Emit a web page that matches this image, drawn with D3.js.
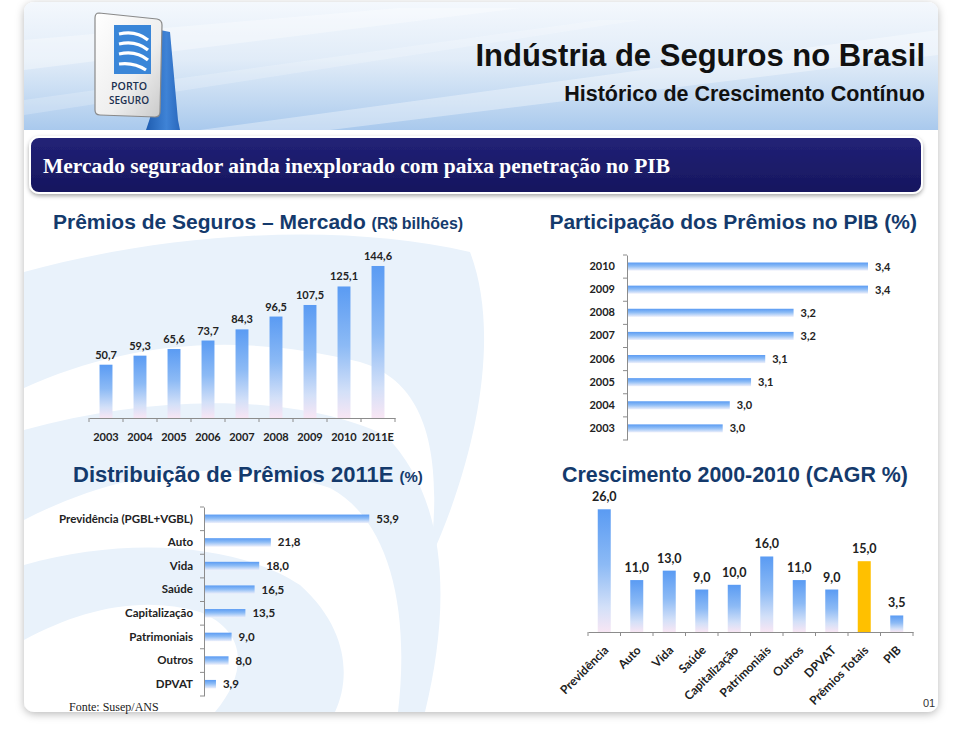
<!DOCTYPE html>
<html><head><meta charset="utf-8">
<script src="https://cdn.jsdelivr.net/npm/d3@7"></script>
<style>body{margin:0;background:#fff;} svg{display:block}</style>
</head><body>
<svg id="c" width="959" height="729"></svg>
<script>
// ---------- DATA ----------
const years = ["2003","2004","2005","2006","2007","2008","2009","2010","2011E"];
const premios = [50.7,59.3,65.6,73.7,84.3,96.5,107.5,125.1,144.6];

const pibYears = ["2010","2009","2008","2007","2006","2005","2004","2003"];
const pibShare = [3.40,3.40,3.19,3.19,3.11,3.07,3.01,2.99];

const distCats = ["Previdência (PGBL+VGBL)","Auto","Vida","Saúde","Capitalização","Patrimoniais","Outros","DPVAT"];
const distVals = [53.9,21.8,18.0,16.5,13.5,9.0,8.0,3.9];

const cagrCats = ["Previdência","Auto","Vida","Saúde","Capitalização","Patrimoniais","Outros","DPVAT","Prêmios Totais","PIB"];
const cagrVals = [26.0,11.0,13.0,9.0,10.0,16.0,11.0,9.0,15.0,3.5];
const cagrHighlight = "Prêmios Totais";

const fmt = v => d3.format(".1f")(v).replace(".", ",");

// ---------- SETUP ----------
const svg = d3.select("#c");
const defs = svg.append("defs");

function lin(id, x2, y2, stops){
  const g = defs.append("linearGradient").attr("id", id).attr("x1",0).attr("y1",0).attr("x2",x2).attr("y2",y2);
  stops.forEach(s => g.append("stop").attr("offset", s[0]).attr("stop-color", s[1]));
}
lin("vGrad",0,1,[[0,"#5a9bf3"],[0.45,"#8cbaf5"],[0.8,"#d3e0f8"],[1,"#f8e6f4"]]);
lin("hGrad",0,1,[[0,"#5a9bf3"],[0.45,"#8dbcf6"],[1,"#eef0fb"]]);
lin("headGrad",0,1,[[0,"#f4f8fd"],[0.45,"#e1ecf8"],[0.8,"#bfd7f1"],[1,"#a9c9ed"]]);
lin("postGrad",1,0,[[0,"#1f5db0"],[0.6,"#3f83d6"],[1,"#2a68bd"]]);
lin("signGrad",1,1,[[0,"#ffffff"],[0.6,"#eeeeee"],[1,"#c9c9c9"]]);
lin("bannerGrad",0,1,[[0,"#222277"],[1,"#16165e"]]);

const f = defs.append("filter").attr("id","shadow").attr("x","-10%").attr("y","-10%").attr("width","120%").attr("height","120%");
f.append("feDropShadow").attr("dx",0).attr("dy",2).attr("stdDeviation",4).attr("flood-color","#000").attr("flood-opacity",0.28);
const f2 = defs.append("filter").attr("id","shadow2").attr("x","-10%").attr("y","-30%").attr("width","120%").attr("height","160%");
f2.append("feDropShadow").attr("dx",0).attr("dy",2).attr("stdDeviation",2).attr("flood-color","#000").attr("flood-opacity",0.35);

defs.append("clipPath").attr("id","panelClip").append("rect").attr("x",24).attr("y",195).attr("width",914).attr("height",517).attr("rx",10);

// ---------- PANEL ----------
svg.append("rect").attr("x",24).attr("y",2).attr("width",914).attr("height",710).attr("rx",10)
  .attr("fill","#fff").attr("filter","url(#shadow)");

// watermark swooshes
const wm = svg.append("g").attr("clip-path","url(#panelClip)").attr("fill","#e9f2fb");
wm.append("path").attr("d","M24,272 C170,232 340,222 470,252 C500,330 480,450 430,560 C445,440 420,380 360,362 C230,330 120,345 24,388 Z");
wm.append("path").attr("d","M24,430 C160,392 300,395 385,435 C450,500 450,610 425,712 L398,712 C410,610 390,520 330,488 C230,455 120,470 24,520 Z");
wm.append("path").attr("d","M24,565 C130,535 240,545 300,585 C350,630 350,680 335,712 L215,712 C250,670 245,630 200,612 C140,595 80,610 24,640 Z");

// ---------- HEADER ----------
svg.append("path").attr("d","M24,130 L24,12 Q24,2 34,2 L928,2 Q938,2 938,12 L938,130 Z").attr("fill","url(#headGrad)");
const streaks = svg.append("g").attr("fill","#fff").attr("opacity",0.35);
streaks.append("path").attr("d","M24,40 L400,8 L520,8 L24,70 Z");
streaks.append("path").attr("d","M200,130 L938,30 L938,55 L330,130 Z");
streaks.append("path").attr("d","M24,100 L600,20 L640,20 L24,115 Z").attr("opacity",0.6);

// logo: post
svg.append("path").attr("d","M160,30 L170,32 L178,120 L180,130 L146,130 L150,118 Z").attr("fill","url(#postGrad)");
// sign
svg.append("path").attr("d","M99,13 L157,19 Q162,20 162,25 L160,112 Q160,117 155,117 L100,115 Q95,115 95,110 L95,18 Q95,13 99,13 Z")
  .attr("fill","url(#signGrad)").attr("stroke","#8a8a8a").attr("stroke-width",1.2);
svg.append("rect").attr("x",114).attr("y",25).attr("width",37).attr("height",49).attr("fill","#3a86d8");
const arcs = svg.append("g").attr("fill","none").attr("stroke","#fff").attr("stroke-width",3.2);
arcs.append("path").attr("d","M119,34 Q136,30 148,40");
arcs.append("path").attr("d","M119,44 Q136,40 148,50");
arcs.append("path").attr("d","M119,54 Q136,50 148,60");
arcs.append("path").attr("d","M119,64 Q134,62 146,70");
svg.append("text").attr("x",129).attr("y",90).attr("text-anchor","middle").attr("font-family","Open Sans, sans-serif")
  .attr("font-size",11.5).attr("font-weight",600).attr("fill","#1b3050").attr("textLength",36).attr("lengthAdjust","spacingAndGlyphs").text("PORTO");
svg.append("text").attr("x",129).attr("y",104).attr("text-anchor","middle").attr("font-family","Open Sans, sans-serif")
  .attr("font-size",11.5).attr("font-weight",600).attr("fill","#1b3050").attr("textLength",40).attr("lengthAdjust","spacingAndGlyphs").text("SEGURO");

svg.append("text").attr("x",925).attr("y",66).attr("text-anchor","end").attr("font-family","Liberation Sans, Arial, sans-serif")
  .attr("font-size",31).attr("font-weight","bold").attr("fill","#111")
  .text("Indústria de Seguros no Brasil");
svg.append("text").attr("x",925).attr("y",101).attr("text-anchor","end").attr("font-family","Liberation Sans, Arial, sans-serif")
  .attr("font-size",21.5).attr("font-weight","bold").attr("fill","#111")
  .text("Histórico de Crescimento Contínuo");

// banner
svg.append("rect").attr("x",30).attr("y",137).attr("width",892).attr("height",56).attr("rx",9)
  .attr("fill","url(#bannerGrad)").attr("stroke","#fff").attr("stroke-width",2).attr("filter","url(#shadow2)");
svg.append("text").attr("x",43).attr("y",173).attr("font-family","Liberation Serif, serif").attr("font-size",21)
  .attr("font-weight","bold").attr("fill","#fff").attr("textLength",627).attr("lengthAdjust","spacingAndGlyphs")
  .text("Mercado segurador ainda inexplorado com paixa penetração no PIB");

// ---------- TITLES ----------
const titleColor = "#143a6c";
function title(x, y, anchor, main, sub, size, subSize){
  const t = svg.append("text").attr("x",x).attr("y",y).attr("text-anchor",anchor)
    .attr("font-family","Liberation Sans, Arial, sans-serif").attr("font-weight","bold").attr("fill",titleColor).attr("font-size",size);
  t.append("tspan").text(main);
  if (sub) t.append("tspan").attr("font-size",subSize).text(sub);
  return t;
}
title(53,229,"start","Prêmios de Seguros – Mercado ","(R$ bilhões)",21,16);
title(917,229,"end","Participação dos Prêmios no PIB (%)",null,21);
title(73,482,"start","Distribuição de Prêmios 2011E ","(%)",22,15);
title(562,482,"start","Crescimento 2000-2010 (CAGR %)",null,21.4);

const lblFont = "Lato, 'Open Sans', sans-serif";
const axisColor = "#8c8c8c";

// ---------- CHART 1: Prêmios (vertical bars) ----------
{
  const x = d3.scaleBand().domain(years).range([89,395]).paddingInner(0.62).paddingOuter(0.31);
  const y = d3.scaleLinear().domain([0,150]).range([418,260.3]);
  const g = svg.append("g");
  g.selectAll("rect").data(years).join("rect")
    .attr("x", d => x(d)).attr("width", x.bandwidth())
    .attr("y", (d,i) => y(premios[i])).attr("height", (d,i) => y(0) - y(premios[i]))
    .attr("fill","url(#vGrad)");
  g.selectAll("text.v").data(years).join("text").attr("class","v")
    .attr("x", d => x(d) + x.bandwidth()/2).attr("y", (d,i) => y(premios[i]) - 6)
    .attr("text-anchor","middle").attr("font-family",lblFont).attr("font-weight","bold").attr("font-size",11).attr("fill","#222")
    .text((d,i) => fmt(premios[i]));
  const ax = g.append("g").attr("transform",`translate(0,${y(0)})`)
    .call(d3.axisBottom(x).tickSize(0).tickPadding(15));
  ax.select(".domain").attr("stroke",axisColor);
  ax.selectAll("text").attr("font-family",lblFont).attr("font-weight","bold").attr("font-size",11).attr("fill","#222");
  const step = x.step();
  const bounds = years.map(d => x(d) + x.bandwidth()/2 - step/2).concat([x(years[years.length-1]) + x.bandwidth()/2 + step/2]);
  g.selectAll("line.tk").data(bounds).join("line").attr("class","tk")
    .attr("x1", d => d).attr("x2", d => d).attr("y1", y(0)).attr("y2", y(0)+4).attr("stroke",axisColor);
}

// ---------- CHART 2: PIB share (horizontal bars) ----------
{
  const y = d3.scaleBand().domain(pibYears).range([255,440]).paddingInner(0.65).paddingOuter(0.325);
  const x = d3.scaleLinear().domain([2.72,3.40]).range([627,868]);
  const g = svg.append("g");
  g.selectAll("rect").data(pibYears).join("rect")
    .attr("y", d => y(d)).attr("height", y.bandwidth())
    .attr("x", x.range()[0]).attr("width", (d,i) => x(pibShare[i]) - x.range()[0])
    .attr("fill","url(#hGrad)");
  g.selectAll("text.v").data(pibYears).join("text").attr("class","v")
    .attr("x", (d,i) => x(pibShare[i]) + 7).attr("y", d => y(d) + y.bandwidth()/2 + 4)
    .attr("font-family",lblFont).attr("font-weight","bold").attr("font-size",11).attr("fill","#222")
    .text((d,i) => fmt(pibShare[i]));
  const ax = g.append("g").attr("transform",`translate(${x.range()[0]},0)`)
    .call(d3.axisLeft(y).tickSize(0).tickPadding(12));
  ax.select(".domain").attr("stroke",axisColor);
  ax.selectAll("text").attr("font-family",lblFont).attr("font-weight","bold").attr("font-size",11).attr("fill","#222");
  const step = y.step();
  const bounds = pibYears.map(d => y(d) + y.bandwidth()/2 - step/2).concat([y(pibYears[pibYears.length-1]) + y.bandwidth()/2 + step/2]);
  g.selectAll("line.tk").data(bounds).join("line").attr("class","tk")
    .attr("y1", d => d).attr("y2", d => d).attr("x1", x.range()[0]-4).attr("x2", x.range()[0]).attr("stroke",axisColor);
}

// ---------- CHART 3: Distribuição (horizontal bars) ----------
{
  const y = d3.scaleBand().domain(distCats).range([507,696]).paddingInner(0.64).paddingOuter(0.32);
  const x = d3.scaleLinear().domain([0,60]).range([204,388]);
  const g = svg.append("g");
  g.selectAll("rect").data(distCats).join("rect")
    .attr("y", d => y(d)).attr("height", y.bandwidth())
    .attr("x", x(0)).attr("width", (d,i) => x(distVals[i]) - x(0))
    .attr("fill","url(#hGrad)");
  g.selectAll("text.v").data(distCats).join("text").attr("class","v")
    .attr("x", (d,i) => x(distVals[i]) + 7).attr("y", d => y(d) + y.bandwidth()/2 + 4)
    .attr("font-family",lblFont).attr("font-weight","bold").attr("font-size",11.5).attr("fill","#222")
    .text((d,i) => fmt(distVals[i]));
  const ax = g.append("g").attr("transform",`translate(${x(0)},0)`)
    .call(d3.axisLeft(y).tickSize(0).tickPadding(11));
  ax.select(".domain").attr("stroke",axisColor);
  ax.selectAll("text").attr("font-family",lblFont).attr("font-weight","bold").attr("font-size",11.5).attr("fill","#222");
  const step = y.step();
  const bounds = distCats.map(d => y(d) + y.bandwidth()/2 - step/2).concat([y(distCats[distCats.length-1]) + y.bandwidth()/2 + step/2]);
  g.selectAll("line.tk").data(bounds).join("line").attr("class","tk")
    .attr("y1", d => d).attr("y2", d => d).attr("x1", x(0)-4).attr("x2", x(0)).attr("stroke",axisColor);
}

// ---------- CHART 4: CAGR (vertical bars) ----------
{
  const x = d3.scaleBand().domain(cagrCats).range([588,913]).paddingInner(0.6).paddingOuter(0.3);
  const y = d3.scaleLinear().domain([0,30]).range([632,490.4]);
  const g = svg.append("g");
  g.selectAll("rect").data(cagrCats).join("rect")
    .attr("x", d => x(d)).attr("width", x.bandwidth())
    .attr("y", (d,i) => y(cagrVals[i])).attr("height", (d,i) => y(0) - y(cagrVals[i]))
    .attr("fill", d => d === cagrHighlight ? "#ffc000" : "url(#vGrad)");
  g.selectAll("text.v").data(cagrCats).join("text").attr("class","v")
    .attr("x", d => x(d) + x.bandwidth()/2).attr("y", (d,i) => y(cagrVals[i]) - 8)
    .attr("text-anchor","middle").attr("font-family",lblFont).attr("font-weight","bold").attr("font-size",12.5).attr("fill","#222")
    .text((d,i) => fmt(cagrVals[i]));
  const ax = g.append("g").attr("transform",`translate(0,${y(0)})`)
    .call(d3.axisBottom(x).tickSize(0).tickPadding(0));
  ax.select(".domain").attr("stroke",axisColor);
  ax.selectAll(".tick text")
    .attr("font-family",lblFont).attr("font-weight","bold").attr("font-size",12).attr("fill","#222")
    .attr("text-anchor","end").attr("dy",0).attr("y",0)
    .attr("transform","translate(5,19) rotate(-45)");
  const step = x.step();
  const bounds = cagrCats.map(d => x(d) + x.bandwidth()/2 - step/2).concat([x(cagrCats[cagrCats.length-1]) + x.bandwidth()/2 + step/2]);
  g.selectAll("line.tk").data(bounds).join("line").attr("class","tk")
    .attr("x1", d => d).attr("x2", d => d).attr("y1", y(0)).attr("y2", y(0)+4).attr("stroke",axisColor);
}

// ---------- FOOTER ----------
svg.append("text").attr("x",69).attr("y",711).attr("font-family","Liberation Serif, serif").attr("font-size",12).attr("fill","#222").text("Fonte: Susep/ANS");
svg.append("text").attr("x",923).attr("y",707).attr("font-family","Liberation Sans, sans-serif").attr("font-size",11).attr("fill","#333").text("01");
</script>
</body></html>
